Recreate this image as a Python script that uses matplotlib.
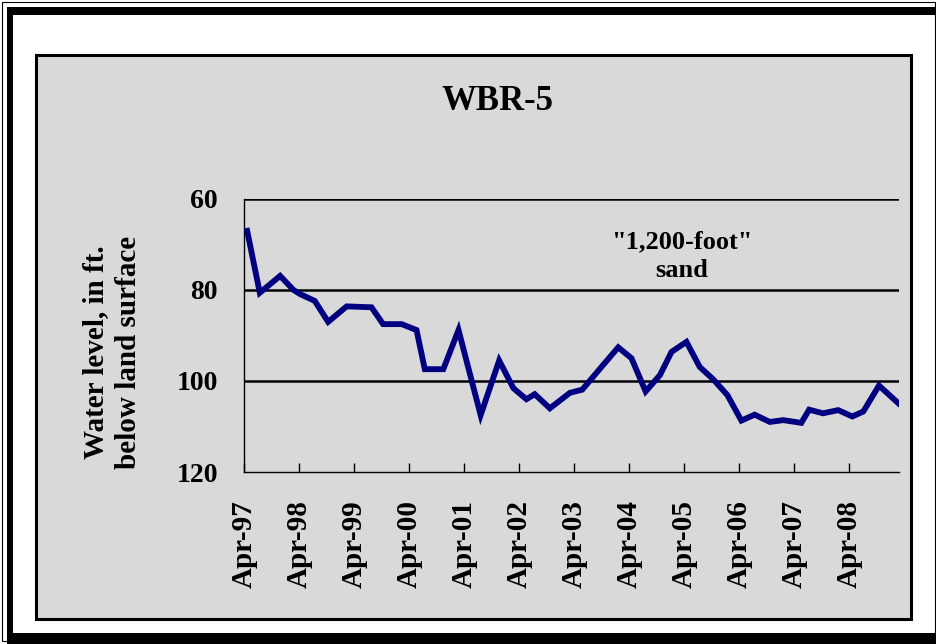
import numpy as np
import pandas as pd
import matplotlib
matplotlib.use("Agg")
import matplotlib.pyplot as plt
import matplotlib.dates as mdates
from matplotlib.patches import Rectangle

# dados (nivel da agua, ft abaixo da superficie)
datas = ["1997-04-20", "1997-07-13", "1997-11-25", "1998-02-22", "1998-04-07",
         "1998-07-13", "1998-10-10", "1999-02-10", "1999-07-25", "1999-10-10",
         "2000-02-10", "2000-05-19", "2000-07-13", "2000-11-13", "2001-02-22",
         "2001-07-19", "2001-11-19", "2002-02-22", "2002-05-19", "2002-07-13",
         "2002-10-22", "2003-03-04", "2003-05-25", "2003-10-10", "2004-01-19",
         "2004-04-16", "2004-07-19", "2004-10-22", "2005-01-07", "2005-04-16",
         "2005-07-13", "2005-10-10", "2006-01-13", "2006-04-16", "2006-07-13",
         "2006-10-22", "2007-01-19", "2007-05-19", "2007-07-10", "2007-10-10",
         "2008-01-19", "2008-04-22", "2008-07-04", "2008-10-16", "2009-02-22"]
nivel = [67.0, 80.6, 76.9, 80.0, 80.9, 82.4, 87.0, 83.6, 83.8, 87.5,
         87.5, 88.8, 97.4, 97.4, 88.8, 107.5, 95.5, 101.6, 104.0, 102.9,
         106.0, 102.6, 101.9, 96.5, 92.6, 95.0, 102.3, 98.7, 93.6, 91.4,
         96.9, 99.6, 103.1, 108.7, 107.4, 109.0, 108.6, 109.2, 106.3, 107.1,
         106.4, 107.8, 106.7, 101.0, 104.9]
anos_ticks = list(range(1997, 2009))
yticks = [60, 80, 100, 120]

W, H = 937, 644
fonte = ["Liberation Serif", "DejaVu Serif"]


def fx(x):
    return x / W


def fy(y):
    return 1 - y / H


def caixa(fig, x0, y0, x1, y1, **kw):
    # retangulo em coordenadas de pixel
    r = Rectangle((fx(x0), fy(y1)), fx(x1) - fx(x0), fy(y0) - fy(y1),
                  transform=fig.transFigure, **kw)
    fig.add_artist(r)
    return r


fig = plt.figure(figsize=(W / 100, H / 100), dpi=100)
fig.patch.set_facecolor("white")

# moldura externa
caixa(fig, 2, 2, 935, 641, fill=False, edgecolor="black", lw=0.8, zorder=0)
caixa(fig, 7, 7, 937, 15, facecolor="black", edgecolor="none", zorder=0)
caixa(fig, 7, 7, 13, 644, facecolor="black", edgecolor="none", zorder=0)
caixa(fig, 7, 633, 937, 644, facecolor="black", edgecolor="none", zorder=0)

# area do grafico
caixa(fig, 36, 55, 911, 619, facecolor="#d9d9d9", edgecolor="black", lw=2.2, zorder=0)

ax = fig.add_axes([fx(244.3), fy(472), fx(899.3) - fx(244.3), fy(199) - fy(472)])
ax.set_facecolor("none")

datas_dt = pd.to_datetime(datas)
ax.plot(datas_dt, nivel, color="#000080", lw=4.2, solid_joinstyle="miter", zorder=3)

ax.set_ylim(120, 60)
ax.set_yticks(yticks)
ax.set_xlim(pd.Timestamp("1997-04-01"), pd.Timestamp("2009-02-28"))
ax.set_xticks([pd.Timestamp(f"{a}-04-01") for a in anos_ticks])
ax.xaxis.set_major_formatter(mdates.DateFormatter("%b-%y"))

# linhas de grade horizontais
for v in [60, 80, 100]:
    ax.axhline(v, color="black", lw=1.8, zorder=2)

for s in ["top", "right"]:
    ax.spines[s].set_visible(False)
ax.spines["left"].set_linewidth(1.0)
ax.spines["bottom"].set_linewidth(1.0)

ax.tick_params(axis="y", length=0, pad=19)
ax.tick_params(axis="x", direction="in", length=6.5, width=1.0, pad=20)
for lab in ax.get_yticklabels():
    lab.set_fontfamily(fonte)
    lab.set_fontweight("bold")
    lab.set_fontsize(20)
for lab in ax.get_xticklabels():
    lab.set_fontfamily(fonte)
    lab.set_fontweight("bold")
    lab.set_fontsize(21)
    lab.set_rotation(90)
    lab.set_va("top")
    lab.set_ha("center")

fig.text(fx(498), fy(102), "WBR-5", ha="center", va="center",
         fontsize=25, fontweight="bold", family=fonte)
fig.text(fx(682), fy(256), "\"1,200-foot\"\nsand", ha="center", va="center",
         fontsize=19, fontweight="bold", family=fonte, linespacing=1.3)
fig.text(fx(112), fy(352), "Water level, in ft.\nbelow land surface", ha="center",
         va="center", rotation=90, fontsize=21, fontweight="bold", family=fonte,
         linespacing=1.25)

fig.savefig("out.png", dpi=100)
